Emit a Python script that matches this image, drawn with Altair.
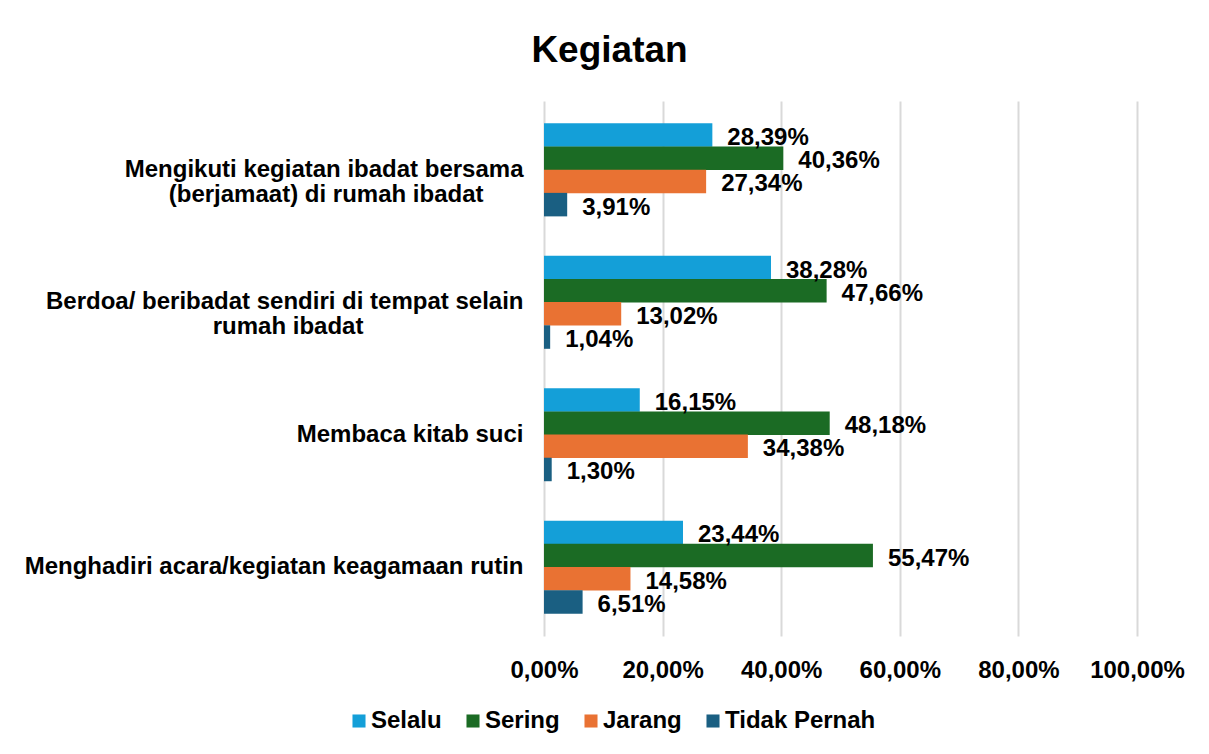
import altair as alt
import pandas as pd

categories = [
    "Mengikuti kegiatan ibadat bersama\n(berjamaat) di rumah ibadat",
    "Berdoa/ beribadat sendiri di tempat selain\nrumah ibadat",
    "Membaca kitab suci",
    "Menghadiri acara/kegiatan keagamaan rutin",
]
series = ["Selalu", "Sering", "Jarang", "Tidak Pernah"]
colors = ["#149fd8", "#1b6b24", "#e97233", "#1a5f82"]

selalu = [28.39, 38.28, 16.15, 23.44]
sering = [40.36, 47.66, 48.18, 55.47]
jarang = [27.34, 13.02, 34.38, 14.58]
tidak_pernah = [3.91, 1.04, 1.30, 6.51]

# trailing non-breaking spaces (closed by a zero-width space so they are not
# trimmed) so the second line of a wrapped label sits centred under the first
line_pad = {categories[0]: 6, categories[1]: 24}
axis_labels = {c: (c + "\u00a0" * line_pad[c] + "\u200b") if c in line_pad else c
               for c in categories}

rows = []
for s, vals in zip(series, [selalu, sering, jarang, tidak_pernah]):
    for c, v in zip(categories, vals):
        rows.append({"kategori": axis_labels[c], "seri": s, "nilai": v,
                     "label": f"{v:.2f}".replace(".", ",") + "%"})
df = pd.DataFrame(rows)
cat_order = [axis_labels[c] for c in categories]

FONT = "Liberation Sans"

y_enc = alt.Y("kategori:N", sort=cat_order,
              scale=alt.Scale(paddingInner=0.3, paddingOuter=0.17),
              axis=alt.Axis(title=None, labelFontSize=24, labelFontWeight="bold",
                            labelColor="#000000", labelFont=FONT, ticks=False,
                            domain=False, labelPadding=21, labelLimit=600,
                            labelLineHeight=25,
                            labelExpr="split(datum.label, '\\n')"))
y_off = alt.YOffset("seri:N", sort=series, scale=alt.Scale(paddingInner=0, paddingOuter=0))
x_enc = alt.X("nilai:Q",
              scale=alt.Scale(domain=[0, 100], nice=False),
              axis=alt.Axis(title=None, values=[0, 20, 40, 60, 80, 100],
                            labelExpr="replace(format(datum.value, '.2f'), '.', ',') + '%'",
                            labelFontSize=24, labelFontWeight="bold", labelFont=FONT,
                            labelColor="#000000", ticks=False, domain=False,
                            labelOverlap=False, labelBound=False, labelFlush=False,
                            labelPadding=22, grid=True, gridColor="#d9d9d9",
                            gridWidth=2))

color_enc = alt.Color("seri:N", sort=series,
                      scale=alt.Scale(domain=series, range=colors),
                      legend=alt.Legend(title=None, orient="none", direction="horizontal",
                                        legendX=-197, legendY=608,
                                        symbolType="square", symbolSize=170,
                                        symbolStrokeWidth=0, labelFontSize=24,
                                        labelFontWeight="bold", labelFont=FONT,
                                        labelColor="#000000", labelOffset=0,
                                        columnPadding=19))

bars = alt.Chart(df).mark_bar(size=23.5).encode(
    y=y_enc, yOffset=y_off, x=x_enc, color=color_enc
)
texts = alt.Chart(df).mark_text(align="left", baseline="middle", dx=15, dy=3,
                                fontSize=24, fontWeight="bold", font=FONT,
                                color="#000000").encode(
    y=alt.Y("kategori:N", sort=cat_order), yOffset=alt.YOffset("seri:N", sort=series),
    x="nilai:Q", text="label:N"
)

chart = alt.layer(bars, texts).properties(
    width=593, height=535,
    title=alt.TitleParams("Kegiatan", fontSize=37, fontWeight="bold", font=FONT,
                          color="#000000", anchor="middle", dx=-231,
                          baseline="alphabetic", offset=2),
    autosize=alt.AutoSizeParams(type="none"),
    padding={"left": 536, "top": 93, "right": 50, "bottom": 100},
    background="white",
).configure_view(stroke=None)

chart.save("out.html", embed_options={"renderer": "svg", "actions": False})
